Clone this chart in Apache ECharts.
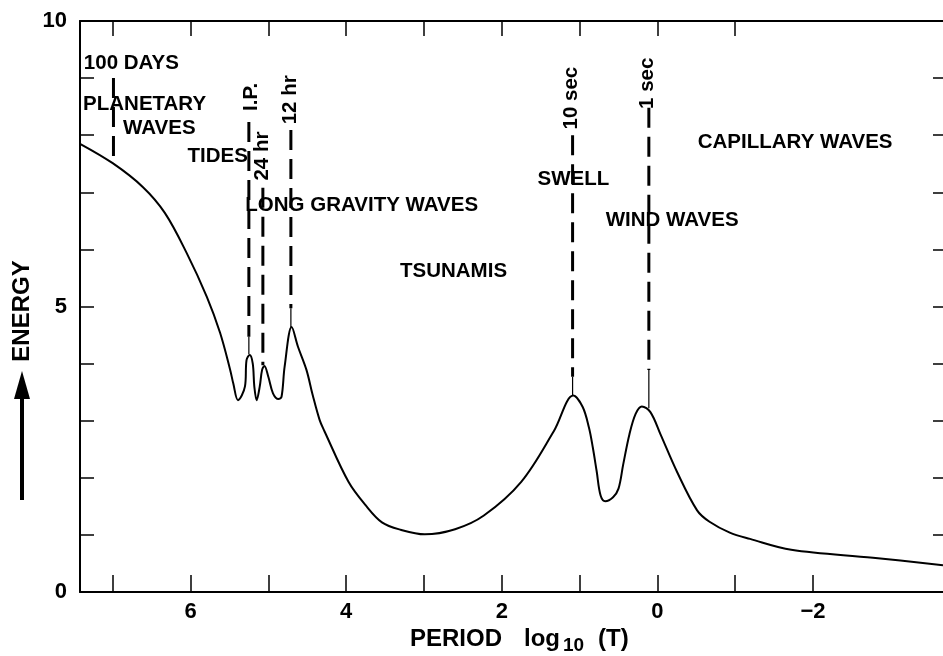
<!DOCTYPE html>
<html>
<head>
<meta charset="utf-8">
<title>Ocean wave energy spectrum</title>
<script src="https://cdn.jsdelivr.net/npm/echarts@6/dist/echarts.min.js"></script>
<style>
  html, body { margin: 0; padding: 0; background: #fff; }
  #chart { width: 943px; height: 656px; }
</style>
</head>
<body>
<div id="chart"></div>
<script>
// Spectrum curve: log10 of wave period (s) against relative energy
const curvePeriod = [7.42, 7.00, 6.61, 6.33, 6.05, 5.79, 5.62, 5.49, 5.45, 5.39, 5.30, 5.28, 5.24, 5.20, 5.18, 5.15, 5.11, 5.08, 5.05, 5.00, 4.94, 4.87, 4.83, 4.79, 4.70, 4.62, 4.51, 4.43, 4.34, 4.28, 3.97, 3.75, 3.54, 3.30, 2.99, 2.60, 2.23, 1.75, 1.33, 1.08, 0.96, 0.88, 0.83, 0.78, 0.73, 0.67, 0.57, 0.50, 0.44, 0.36, 0.28, 0.20, 0.09, -0.04, -0.25, -0.51, -0.67, -0.93, -1.19, -1.72, -2.77, -3.67];
const curveEnergy = [7.85, 7.51, 7.09, 6.64, 5.94, 5.17, 4.54, 3.89, 3.65, 3.36, 3.60, 4.06, 4.15, 4.00, 3.60, 3.36, 3.60, 3.89, 3.96, 3.77, 3.48, 3.38, 3.42, 3.95, 4.64, 4.30, 3.89, 3.45, 3.01, 2.82, 1.93, 1.52, 1.22, 1.09, 1.01, 1.10, 1.34, 1.93, 2.82, 3.44, 3.24, 2.88, 2.53, 2.11, 1.69, 1.59, 1.66, 1.81, 2.23, 2.76, 3.12, 3.25, 3.15, 2.76, 2.11, 1.43, 1.23, 1.04, 0.93, 0.74, 0.60, 0.47];

// Vertical period markers (dashed, then a thin lead down to the curve)
const guideX        = [6.99, 5.25, 5.07, 4.71, 1.09, 0.11];
const guideTop      = [9.00, 8.23, 7.08, 8.09, 8.00, 8.48];
const guideDashEnd  = [7.51, 4.47, 3.97, 4.97, 3.77, 3.89];
const guideEnd      = [7.51, 4.17, 3.97, 4.64, 3.45, 3.22];

// Rotated period names at the top of the markers
const periodLabels = ['I.P.', '24 hr', '12 hr', '10 sec', '1 sec'];
const periodLabelX = [5.22, 5.08, 4.72, 1.11, 0.13];
const periodLabelY = [8.67, 7.635, 8.62, 8.65, 8.91];

// Wave-class names
const regionNames = ['100 DAYS', 'PLANETARY', 'WAVES', 'TIDES', 'LONG GRAVITY WAVES', 'TSUNAMIS', 'SWELL', 'WIND WAVES', 'CAPILLARY WAVES'];
const regionX = [6.76, 6.59, 6.40, 5.65, 3.80, 2.62, 1.08, -0.19, -1.77];
const regionY = [9.26, 8.54, 8.12, 7.63, 6.77, 5.62, 7.22, 6.51, 7.87];

// Axis ticks and labels
const xTickBottom = [-2, -1, 0, 1, 2, 3, 4, 5, 6, 7];
const xTickTop = [-1, 0, 1, 2, 3, 4, 5, 6, 7];
const xLabelValues = [-2, 0, 2, 4, 6];
const yLabelValues = [0, 5, 10];
const yTickRight = [1, 2, 3, 4, 5, 6, 7, 8, 9];

const FONT = '"Liberation Sans", Arial, Helvetica, sans-serif';
const INK = '#000';

const chart = echarts.init(document.getElementById('chart'), null, { renderer: 'canvas' });

const curveData = curvePeriod.map((p, i) => [p, curveEnergy[i]]);

const guideSeries = [];
guideX.forEach((x, i) => {
  guideSeries.push({
    type: 'line', silent: true, symbol: 'none', z: 3,
    data: [[x, guideTop[i]], [x, guideDashEnd[i]]],
    lineStyle: { color: INK, width: 3, type: [20, 9], cap: 'butt' }
  });
  if (guideEnd[i] !== guideDashEnd[i]) {
    guideSeries.push({
      type: 'line', silent: true, symbol: 'none', z: 3,
      data: [[x, guideDashEnd[i]], [x, guideEnd[i]]],
      lineStyle: { color: INK, width: 1.2 }
    });
  }
});

const textStyle = {
  color: INK, fontFamily: FONT, fontWeight: 'bold', fontSize: 20.5,
  opacity: 1, textBorderWidth: 0
};

const option = {
  animation: false,
  backgroundColor: '#fff',
  grid: { left: 80, right: -1, top: 21, bottom: 64, containLabel: false },
  xAxis: [
    {
      type: 'value', position: 'bottom', inverse: true, min: -3.67, max: 7.42,
      axisLine: { show: true, onZero: false, lineStyle: { color: INK, width: 2 } },
      axisTick: { show: true, inside: true, length: 17, customValues: xTickBottom, lineStyle: { color: INK, width: 1.5 } },
      axisLabel: {
        show: true, customValues: xLabelValues, margin: 9,
        color: INK, fontFamily: FONT, fontWeight: 'bold', fontSize: 22,
        formatter: v => (v < 0 ? '\u2212' + Math.abs(v) : String(v))
      },
      splitLine: { show: false }
    },
    {
      type: 'value', position: 'top', inverse: true, min: -3.67, max: 7.42,
      axisLine: { show: true, onZero: false, lineStyle: { color: INK, width: 2 } },
      axisTick: { show: true, inside: true, length: 15, customValues: xTickTop, lineStyle: { color: INK, width: 1.5 } },
      axisLabel: { show: false },
      splitLine: { show: false }
    }
  ],
  yAxis: [
    {
      type: 'value', position: 'left', min: 0, max: 10, interval: 1,
      axisLine: { show: true, onZero: false, lineStyle: { color: INK, width: 2 } },
      axisTick: { show: true, inside: true, length: 14, lineStyle: { color: INK, width: 1.5 } },
      axisLabel: {
        show: true, customValues: yLabelValues, margin: 13,
        color: INK, fontFamily: FONT, fontWeight: 'bold', fontSize: 22
      },
      splitLine: { show: false }
    },
    {
      type: 'value', position: 'right', min: 0, max: 10,
      axisLine: { show: false, onZero: false },
      axisTick: { show: true, inside: true, length: 10, customValues: yTickRight, lineStyle: { color: INK, width: 1.5 } },
      axisLabel: { show: false },
      splitLine: { show: false }
    }
  ],
  series: [
    {
      name: 'Energy', type: 'line', silent: true, symbol: 'none', smooth: 0.35, z: 4,
      data: curveData,
      lineStyle: { color: INK, width: 2 }
    },
    ...guideSeries,
    {
      type: 'scatter', silent: true, symbolSize: 0, clip: false, z: 5,
      itemStyle: { opacity: 1, color: INK },
      data: regionNames.map((n, i) => ({ name: n, value: [regionX[i], regionY[i]] })),
      label: { show: true, position: 'inside', formatter: p => p.name, ...textStyle }
    },
    {
      type: 'scatter', silent: true, symbolSize: 0, clip: false, z: 5,
      itemStyle: { opacity: 1, color: INK },
      data: periodLabels.map((n, i) => ({ name: n, value: [periodLabelX[i], periodLabelY[i]] })),
      label: { show: true, position: 'inside', rotate: 90, formatter: p => p.name, ...textStyle }
    }
  ],
  graphic: [
    // x axis title: PERIOD log10 (T)
    { type: 'text', left: 410, top: 627, style: { text: 'PERIOD', fill: INK, font: 'bold 24px ' + FONT } },
    { type: 'text', left: 524, top: 627, style: { text: 'log', fill: INK, font: 'bold 24px ' + FONT } },
    { type: 'text', left: 563, top: 636, style: { text: '10', fill: INK, font: 'bold 19px ' + FONT } },
    { type: 'text', left: 598, top: 627, style: { text: '(T)', fill: INK, font: 'bold 24px ' + FONT } },
    // y axis title with upward arrow
    {
      type: 'text', x: 22, y: 311, rotation: Math.PI / 2,
      style: { text: 'ENERGY', fill: INK, font: 'bold 24px ' + FONT, align: 'center', verticalAlign: 'middle' }
    },
    { type: 'line', shape: { x1: 22, y1: 500, x2: 22, y2: 392 }, style: { stroke: INK, lineWidth: 4 } },
    { type: 'polygon', shape: { points: [[22, 371], [14, 399], [30, 399]] }, style: { fill: INK } }
  ]
};

chart.setOption(option);
</script>
</body>
</html>
